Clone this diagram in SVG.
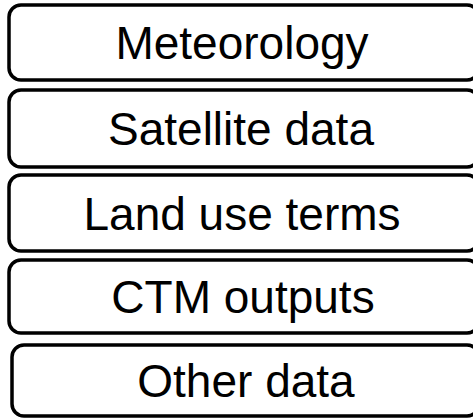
<svg xmlns="http://www.w3.org/2000/svg" width="473" height="420" viewBox="0 0 473 420">
<style>
.box{fill:#fff;stroke:#000;stroke-width:3.5}
.lbl{font-family:"Liberation Sans",Arial,sans-serif;font-size:46px;fill:#000;text-anchor:middle}
</style>
<rect width="473" height="420" fill="#fff"/>
<g id="meteorology"><rect class="box" x="9" y="5" width="470" height="75" rx="12"/><text class="lbl" x="242" y="59">Meteorology</text></g>
<g id="satellite"><rect class="box" x="9" y="90" width="470" height="77" rx="12"/><text class="lbl" x="241" y="145">Satellite data</text></g>
<g id="landuse"><rect class="box" x="9" y="175" width="470" height="76" rx="12"/><text class="lbl" x="242" y="230">Land use terms</text></g>
<g id="ctm"><rect class="box" x="9" y="260" width="470" height="73" rx="12"/><text class="lbl" x="243" y="313">CTM outputs</text></g>
<g id="other"><rect class="box" x="12" y="345" width="467" height="71" rx="12"/><text class="lbl" x="246" y="397">Other data</text></g>
<g id="connectors"/>
</svg>
